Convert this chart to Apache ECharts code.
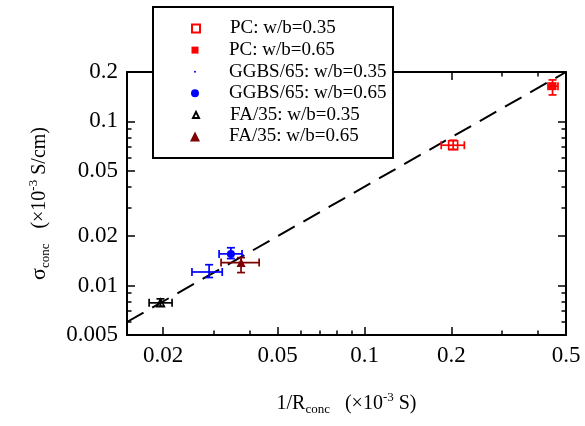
<!DOCTYPE html>
<html><head><meta charset="utf-8">
<script src="https://cdn.jsdelivr.net/npm/echarts@6/dist/echarts.min.js"></script>
<style>html,body{margin:0;padding:0;background:#fff}#c{width:585px;height:426px}</style>
</head><body><div id="c"></div>
<script>
// ---- data ----
const xMajorTicks = [0.02, 0.05, 0.1, 0.2, 0.5];
const xMinorTicks = [0.03, 0.04, 0.06, 0.07, 0.08, 0.09, 0.3, 0.4];
const yMajorTicks = [0.005, 0.01, 0.02, 0.05, 0.1, 0.2];
const yMinorTicks = [0.006, 0.007, 0.008, 0.009, 0.03, 0.04, 0.06, 0.07, 0.08, 0.09];
const seriesNames = ['PC: w/b=0.35', 'PC: w/b=0.65', 'GGBS/65: w/b=0.35', 'GGBS/65: w/b=0.65', 'FA/35: w/b=0.35', 'FA/35: w/b=0.65'];
// [x, y, xLow, xHigh, yLow, yHigh]
const pc035 = [[0.203, 0.0716, 0.1845, 0.222, 0.0676, 0.0768]];
const pc065 = [[0.449, 0.164, 0.433, 0.469, 0.145, 0.179]];
const ggbs035 = [[0.0289, 0.0121, 0.0252, 0.0321, 0.0112, 0.0134]];
const ggbs065 = [[0.0344, 0.0156, 0.0313, 0.0376, 0.0146, 0.0170]];
const fa035 = [[0.0196, 0.00785, 0.0179, 0.0215, 0.0075, 0.0083]];
const fa065 = [[0.0373, 0.0138, 0.0318, 0.0431, 0.0120, 0.0148]];
const fitLine = [[0.015, 0.006], [0.5, 0.2]];

const xMin = 0.015, xMax = 0.5, yMin = 0.005, yMax = 0.2;
const FONT = 'Liberation Serif';
const RED = '#ff0000', BLUE = '#0000ff', BLACK = '#000000', MAROON = '#7f0000';

const groups = [
  {name: seriesNames[0], data: pc035, color: RED, symbol: 'rect', size: 9, fill: 'rgba(255,255,255,0)', border: RED, bw: 1.6, legendS: 8},
  {name: seriesNames[1], data: pc065, color: RED, symbol: 'rect', size: 8, fill: RED, border: RED, bw: 0, legendS: 7},
  {name: seriesNames[2], data: ggbs035, color: BLUE, symbol: 'circle', size: 2.5, fill: BLUE, border: BLUE, bw: 0, legendS: 2},
  {name: seriesNames[3], data: ggbs065, color: BLUE, symbol: 'circle', size: 8, fill: BLUE, border: BLUE, bw: 0, legendS: 8},
  {name: seriesNames[4], data: fa035, color: BLACK, symbol: 'triangle', size: 8, fill: 'rgba(255,255,255,0)', border: BLACK, bw: 1.5, legendS: 6},
  {name: seriesNames[5], data: fa065, color: MAROON, symbol: 'triangle', size: 9, fill: MAROON, border: MAROON, bw: 0, legendS: 10}
];

function fmt(v) { return String(+Number(v).toPrecision(3)); }

function errRender(color) {
  return function (params, api) {
    const x = api.value(0), y = api.value(1);
    const p = api.coord([x, y]);
    const xl = api.coord([api.value(2), y])[0];
    const xh = api.coord([api.value(3), y])[0];
    const yl = api.coord([x, api.value(4)])[1];
    const yh = api.coord([x, api.value(5)])[1];
    const c = 4;
    const st = {stroke: color, lineWidth: 1.7, fill: null};
    const L = (x1, y1, x2, y2) => ({type: 'line', shape: {x1, y1, x2, y2}, style: st});
    return {type: 'group', children: [
      L(xl, p[1], xh, p[1]), L(xl, p[1] - c, xl, p[1] + c), L(xh, p[1] - c, xh, p[1] + c),
      L(p[0], yl, p[0], yh), L(p[0] - c, yl, p[0] + c, yl), L(p[0] - c, yh, p[0] + c, yh)
    ]};
  };
}

const axisBase = (extra) => Object.assign({
  type: 'log', logBase: 10, splitLine: {show: false}, minorTick: {show: false}, minorSplitLine: {show: false}
}, extra);

function xAxisDef(pos, ticks, len, showLine, showLabel) {
  return axisBase({
    min: xMin, max: xMax, position: pos,
    axisLine: {show: showLine, onZero: false, lineStyle: {color: '#000', width: 2}},
    axisTick: {show: true, inside: true, length: len, customValues: ticks, lineStyle: {color: '#000', width: 1.5}},
    axisLabel: showLabel ? {show: true, customValues: ticks, formatter: fmt, fontFamily: FONT, fontSize: 23, color: '#000', margin: 9} : {show: false}
  });
}
function yAxisDef(pos, ticks, len, showLine, showLabel) {
  return axisBase({
    min: yMin, max: yMax, position: pos,
    axisLine: {show: showLine, onZero: false, lineStyle: {color: '#000', width: 2}},
    axisTick: {show: true, inside: true, length: len, customValues: ticks, lineStyle: {color: '#000', width: 1.5}},
    axisLabel: showLabel ? {show: true, customValues: ticks, formatter: fmt, fontFamily: FONT, fontSize: 23, color: '#000', margin: 9} : {show: false}
  });
}

const xAxes = [
  xAxisDef('bottom', xMajorTicks, 8, true, true),
  xAxisDef('bottom', xMinorTicks, 4.5, false, false),
  xAxisDef('top', xMajorTicks, 8, true, false),
  xAxisDef('top', xMinorTicks, 4.5, false, false)
];
Object.assign(xAxes[0], {
  name: '1/R{sub|conc}   (×10{sup|-3} S)', nameLocation: 'middle', nameGap: 56,
  nameTextStyle: {fontFamily: FONT, fontSize: 20, color: '#000', rich: {
    sub: {fontFamily: FONT, fontSize: 13, color: '#000', padding: [12, 0, 0, 0]},
    sup: {fontFamily: FONT, fontSize: 13, color: '#000', padding: [0, 0, 12, 0]}
  }}
});
const yAxes = [
  yAxisDef('left', yMajorTicks, 8, true, true),
  yAxisDef('left', yMinorTicks, 4.5, false, false),
  yAxisDef('right', yMajorTicks, 8, true, false),
  yAxisDef('right', yMinorTicks, 4.5, false, false)
];
Object.assign(yAxes[0], {
  name: '{s|σ}{sub|conc}   (×10{sup|-3} S/cm)', nameLocation: 'middle', nameGap: 75,
  nameTextStyle: {fontFamily: FONT, fontSize: 20, color: '#000', rich: {
    s: {fontFamily: FONT, fontSize: 22, color: '#000'},
    sub: {fontFamily: FONT, fontSize: 13, color: '#000', padding: [12, 0, 0, 0]},
    sup: {fontFamily: FONT, fontSize: 13, color: '#000', padding: [0, 0, 12, 0]}
  }}
});

const series = [];
groups.forEach(g => {
  series.push({
    type: 'custom', name: g.name + ' err', data: g.data, encode: {x: 0, y: 1},
    renderItem: errRender(g.color), z: 3, silent: true
  });
});
series.push({
  type: 'line', name: 'fit', data: fitLine, showSymbol: false, symbol: 'none', z: 2,
  lineStyle: {color: '#000', width: 2, type: [19, 10]}, silent: true
});
groups.forEach(g => {
  series.push({
    type: 'scatter', name: g.name, data: g.data, symbol: g.symbol, symbolSize: g.size, z: 5,
    encode: {x: 0, y: 1}, symbolKeepAspect: true,
    itemStyle: {color: g.fill, borderColor: g.border, borderWidth: g.bw, opacity: 1}
  });
});

const ICON_CX = 195, TEXT_X = 229;
const legends = groups.map((g, i) => ({
  data: [{name: g.name}], orient: 'vertical', left: ICON_CX - g.legendS / 2, top: 29 + 21.6 * i - 10,
  itemWidth: g.legendS, itemHeight: g.legendS, itemGap: 0, padding: 0, z: 60, selectedMode: false,
  textStyle: {fontFamily: FONT, fontSize: 19, color: '#000',
    padding: [0, 0, 0, TEXT_X - (ICON_CX + g.legendS / 2) - 5]}
}));

const chart = echarts.init(document.getElementById('c'), null, {renderer: 'canvas'});
chart.setOption({
  animation: false,
  backgroundColor: '#fff',
  grid: {left: 127, right: 19, top: 72, bottom: 91, containLabel: false},
  xAxis: xAxes,
  yAxis: yAxes,
  legend: legends,
  graphic: [{type: 'rect', shape: {x: 153, y: 7, width: 240, height: 151}, style: {fill: '#fff', stroke: '#000', lineWidth: 2}, z: 50}],
  series: series
});
</script></body></html>
